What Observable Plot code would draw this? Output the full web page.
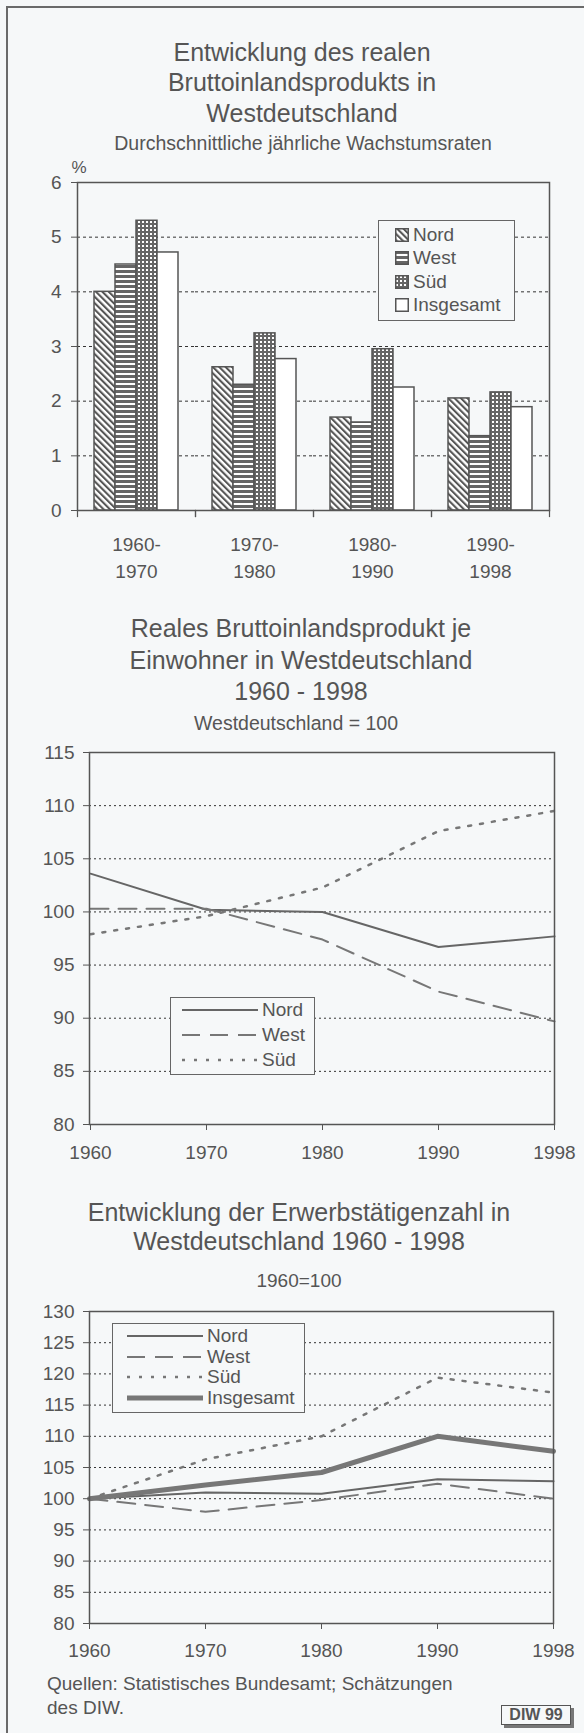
<!DOCTYPE html>
<html><head><meta charset="utf-8">
<script src="https://cdn.jsdelivr.net/npm/d3@7"></script>
<script src="https://cdn.jsdelivr.net/npm/@observablehq/plot@0.6"></script>
<style>
html,body{margin:0;padding:0;background:#f6f8f9;}
#page{position:relative;width:584px;height:1733px;background:#f6f8f9;font-family:"Liberation Sans",Arial,sans-serif;color:#555;overflow:hidden;}
.txt{position:absolute;white-space:nowrap;}
</style>
</head><body>
<svg width="0" height="0" style="position:absolute">
  <defs>
    <pattern id="pNord" width="4.5" height="4.5" patternUnits="userSpaceOnUse" patternTransform="rotate(-45)">
      <rect width="4.5" height="4.5" fill="#fff"/>
      <rect width="2.1" height="4.5" fill="#555"/>
    </pattern>
    <pattern id="pWest" width="6" height="5" patternUnits="userSpaceOnUse">
      <rect width="6" height="5" fill="#fff"/>
      <rect width="6" height="3" fill="#666"/>
    </pattern>
    <pattern id="pSud" width="4" height="4" patternUnits="userSpaceOnUse">
      <rect width="4" height="4" fill="#666"/>
      <rect x="1" y="1" width="2" height="2" fill="#fff"/>
    </pattern>
  </defs>
</svg>
<div id="page"></div>
<script>
// ---------- DATA ----------
// Chart 1: average annual growth rates of real GDP (%)
const periods = ["1960-\n1970", "1970-\n1980", "1980-\n1990", "1990-\n1998"];
const barSeries = ["Nord", "West", "Süd", "Insgesamt"];
const growthNord = [4.0, 2.62, 1.70, 2.05];
const growthWest = [4.5, 2.30, 1.61, 1.36];
const growthSud = [5.3, 3.24, 2.95, 2.16];
const growthTotal = [4.72, 2.77, 2.25, 1.89];
const growthTicks = [0, 1, 2, 3, 4, 5, 6];
const growthGrid = [1, 2, 3, 4, 5];

// Chart 2: real GDP per inhabitant, Westdeutschland = 100
const years = ["1960", "1970", "1980", "1990", "1998"];
const gdpSeries = ["Nord", "West", "Süd"];
const gdpNord = [103.6, 100.2, 100.0, 96.7, 97.7];
const gdpWest = [100.3, 100.3, 97.4, 92.5, 89.7];
const gdpSud = [97.9, 99.6, 102.3, 107.6, 109.5];
const gdpTicks = [80, 85, 90, 95, 100, 105, 110, 115];
const gdpGrid = [85, 90, 95, 100, 105, 110];

// Chart 3: employment, 1960 = 100
const empSeries = ["Nord", "West", "Süd", "Insgesamt"];
const empNord = [100, 101.0, 100.8, 103.1, 102.8];
const empWest = [100, 97.9, 99.8, 102.4, 100.0];
const empSud = [100, 106.3, 110.0, 119.4, 117.0];
const empTotal = [100, 102.2, 104.2, 110.0, 107.6];
const empTicks = [80, 85, 90, 95, 100, 105, 110, 115, 120, 125, 130];
const empGrid = [85, 90, 95, 100, 105, 110, 115, 120, 125];

// ---------- TABLES ----------
const growthValues = [growthNord, growthWest, growthSud, growthTotal];
const growth = barSeries.flatMap((s, i) => growthValues[i].map((v, j) => ({series: s, period: periods[j], value: v})));
const gdpValues = [gdpNord, gdpWest, gdpSud];
const gdp = gdpSeries.flatMap((s, i) => gdpValues[i].map((v, j) => ({series: s, year: years[j], value: v})));
const empValues = [empNord, empWest, empSud, empTotal];
const emp = empSeries.flatMap((s, i) => empValues[i].map((v, j) => ({series: s, year: years[j], value: v})));

// ---------- STYLES ----------
const FONT = "'Liberation Sans', Arial, sans-serif";
const INK = "#555";
const barFill = {"Nord": "url(#pNord)", "West": "url(#pWest)", "Süd": "url(#pSud)", "Insgesamt": "#fff"};
const lineStyle = {
  "Nord": {stroke: "#666", strokeWidth: 2, strokeDasharray: null},
  "West": {stroke: "#777", strokeWidth: 2, strokeDasharray: "18,10"},
  "Süd": {stroke: "#777", strokeWidth: 2.5, strokeDasharray: "3,9"},
  "Insgesamt": {stroke: "#777", strokeWidth: 5, strokeDasharray: null}
};
const plotStyle = {background: "transparent", color: INK, fontFamily: FONT, fontSize: "19px", overflow: "visible"};
const fmt = d3.format("d");

const page = document.getElementById("page");

function place(el, left, top) {
  el.style.position = "absolute";
  el.style.left = left + "px";
  el.style.top = top + "px";
  page.appendChild(el);
}
function centered(text, cx, cy, size, extra = "") {
  const d = document.createElement("div");
  d.className = "txt";
  d.textContent = text;
  d.style.cssText += `width:584px;text-align:center;font-size:${size}px;line-height:${size * 1.2}px;${extra}`;
  place(d, cx - 292, cy - size * 0.6);
}
function leftText(text, x, cy, size, extra = "") {
  const d = document.createElement("div");
  d.className = "txt";
  d.textContent = text;
  d.style.cssText += `font-size:${size}px;line-height:${size * 1.2}px;${extra}`;
  place(d, x, cy - size * 0.6);
}

// outer frame lines
const frameL = document.createElement("div");
frameL.style.cssText = "width:2px;height:1727px;background:#6a6a6a;";
place(frameL, 6, 6);
const frameT = document.createElement("div");
frameT.style.cssText = "width:578px;height:2px;background:#6a6a6a;";
place(frameT, 6, 6);

// ---------- CHART 1 ----------
centered("Entwicklung des realen", 302, 52, 25);
centered("Bruttoinlandsprodukts in", 302, 82, 25);
centered("Westdeutschland", 302, 113, 25);
centered("Durchschnittliche jährliche Wachstumsraten", 303, 144, 19.5);
centered("%", 79, 168, 17);

const plot1 = Plot.plot({
  width: 584, height: 430,
  marginTop: 22, marginBottom: 80, marginLeft: 76, marginRight: 35,
  style: plotStyle,
  fx: {domain: periods, padding: 0, label: null, axis: null},
  x: {domain: barSeries, paddingInner: 0, paddingOuter: 0.6875, axis: null},
  y: {domain: [0, 6], axis: null},
  marks: [
    Plot.ruleY(growthGrid, {stroke: "#333", strokeWidth: 1, strokeDasharray: "3,3"}),
    ...barSeries.map(s => Plot.barY(growth.filter(d => d.series === s), {
      fx: "period", x: "series", y: "value", fill: barFill[s], stroke: "#555", strokeWidth: 1.5
    })),
    Plot.frame({facet: "super", stroke: "#555", strokeWidth: 1.5}),
    Plot.frame({anchor: "left", insetTop: 328, insetBottom: -6, stroke: "#555", strokeWidth: 1.2}),
    Plot.frame({anchor: "right", insetTop: 328, insetBottom: -6, stroke: "#555", strokeWidth: 1.2}),
    Plot.axisY(growthTicks, {tickSize: 6, tickPadding: 10, fontSize: 19, label: null, stroke: "#555", tickFormat: fmt}),
    Plot.axisFx({anchor: "bottom", tickSize: 0, tickPadding: 21, fontSize: 19, lineHeight: 1.42, label: null})
  ]
});
place(plot1, 0, 160);

// legend 1
(function () {
  const box = document.createElement("div");
  box.style.cssText = `width:135px;height:99px;border:1px solid #666;background:#f6f8f9;`;
  place(box, 378, 220);
  const rows = [235, 258, 282, 305];
  barSeries.forEach((s, i) => {
    const sw = document.createElementNS("http://www.w3.org/2000/svg", "svg");
    sw.setAttribute("width", 14); sw.setAttribute("height", 14);
    const r = document.createElementNS("http://www.w3.org/2000/svg", "rect");
    r.setAttribute("x", 0.75); r.setAttribute("y", 0.75); r.setAttribute("width", 12.5); r.setAttribute("height", 12.5);
    r.setAttribute("fill", barFill[s]); r.setAttribute("stroke", "#555"); r.setAttribute("stroke-width", 1.5);
    sw.appendChild(r);
    place(sw, 395, rows[i] - 7);
    leftText(s, 413, rows[i], 19);
  });
})();

// ---------- CHART 2 ----------
centered("Reales Bruttoinlandsprodukt je", 301, 628, 25);
centered("Einwohner in Westdeutschland", 301, 660, 25);
centered("1960 - 1998", 301, 691, 25);
centered("Westdeutschland = 100", 296, 724, 19.5);

const plot2 = Plot.plot({
  width: 584, height: 440,
  marginTop: 12, marginBottom: 56, marginLeft: 89, marginRight: 30,
  style: plotStyle,
  x: {type: "point", domain: years, padding: 0, axis: null},
  y: {domain: [80, 115], axis: null},
  marks: [
    Plot.ruleY(gdpGrid, {stroke: "#333", strokeWidth: 1, strokeDasharray: "2,3"}),
    ...gdpSeries.map(s => Plot.lineY(gdp.filter(d => d.series === s), {
      x: "year", y: "value", ...lineStyle[s]
    })),
    Plot.frame({stroke: "#555", strokeWidth: 1.5}),
    Plot.axisY(gdpTicks, {tickSize: 6, tickPadding: 9, fontSize: 19, label: null, stroke: "#555", tickFormat: fmt}),
    Plot.axisX(years, {tickSize: 6, tickPadding: 15, fontSize: 19, label: null, stroke: "#555"})
  ]
});
place(plot2, 0, 740);

function lineLegend(series, left, top, w, h, rows, x1, x2, tx) {
  const box = document.createElement("div");
  box.style.cssText = `width:${w}px;height:${h}px;border:1px solid #666;background:#f6f8f9;`;
  place(box, left, top);
  series.forEach((s, i) => {
    const sv = document.createElementNS("http://www.w3.org/2000/svg", "svg");
    sv.setAttribute("width", x2 - x1); sv.setAttribute("height", 10);
    const l = document.createElementNS("http://www.w3.org/2000/svg", "line");
    l.setAttribute("x1", 0); l.setAttribute("x2", x2 - x1); l.setAttribute("y1", 5); l.setAttribute("y2", 5);
    const st = lineStyle[s];
    l.setAttribute("stroke", st.stroke); l.setAttribute("stroke-width", st.strokeWidth);
    if (st.strokeDasharray) l.setAttribute("stroke-dasharray", st.strokeDasharray);
    sv.appendChild(l);
    place(sv, x1, rows[i] - 5);
    leftText(s, tx, rows[i], 19);
  });
}
lineLegend(gdpSeries, 170, 997, 143, 76, [1010, 1035, 1060], 182, 258, 262);

// ---------- CHART 3 ----------
centered("Entwicklung der Erwerbstätigenzahl in", 299, 1212, 25);
centered("Westdeutschland 1960 - 1998", 299, 1241, 25);
centered("1960=100", 299, 1281, 19);

const plot3 = Plot.plot({
  width: 584, height: 380,
  marginTop: 11, marginBottom: 57, marginLeft: 89, marginRight: 31,
  style: plotStyle,
  x: {type: "point", domain: years, padding: 0, axis: null},
  y: {domain: [80, 130], axis: null},
  marks: [
    Plot.ruleY(empGrid, {stroke: "#333", strokeWidth: 1, strokeDasharray: "2,3"}),
    ...empSeries.map(s => Plot.lineY(emp.filter(d => d.series === s), {
      x: "year", y: "value", ...lineStyle[s]
    })),
    Plot.frame({stroke: "#555", strokeWidth: 1.5}),
    Plot.axisY(empTicks, {tickSize: 6, tickPadding: 9, fontSize: 19, label: null, stroke: "#555", tickFormat: fmt}),
    Plot.axisX(years, {tickSize: 6, tickPadding: 14, fontSize: 19, label: null, stroke: "#555"})
  ]
});
place(plot3, 0, 1300);

lineLegend(empSeries, 112, 1323, 191, 88, [1336, 1357, 1377, 1398], 127, 203, 207);

// ---------- FOOTER ----------
leftText("Quellen: Statistisches Bundesamt; Schätzungen", 47, 1684, 19);
leftText("des DIW.", 47, 1708, 19);
const diw = document.createElement("div");
diw.textContent = "DIW 99";
diw.style.cssText = "width:68px;height:18px;border:1px solid #555;background:#f6f8f9;font-size:16px;font-weight:bold;line-height:18px;text-align:center;box-shadow:3px 3px 0 #777;";
place(diw, 501, 1705);
</script>
</body></html>
